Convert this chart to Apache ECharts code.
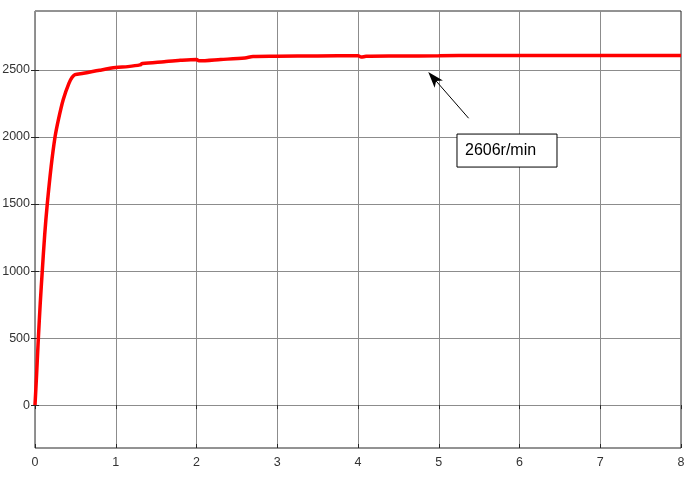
<!DOCTYPE html>
<html>
<head>
<meta charset="utf-8">
<script src="https://cdn.jsdelivr.net/npm/echarts@6/dist/echarts.min.js"></script>
<style>html,body{margin:0;padding:0;background:#fff;}#c{width:700px;height:495px;}</style>
</head>
<body>
<div id="c"></div>
<script>
// time (s)
var times = [0,0.02,0.04,0.065,0.09,0.12,0.152,0.2,0.248,0.29,0.35,0.42,0.46,0.495,
  0.6,0.8,1.0,1.15,1.3,1.33,1.6,1.8,2.0,2.03,2.3,2.6,2.7,3.0,3.5,4.0,4.04,4.1,4.5,5.0,5.5,6,7,8];
// speed (r/min)
var speeds = [0,230,480,760,1000,1270,1500,1780,2000,2130,2280,2400,2445,2465,
  2475,2498,2518,2525,2538,2548,2562,2572,2578,2568,2578,2590,2600,2602,2605,2607,2596,2602,2604,2606,2608,2608,2608,2608];
var yTicks = [0,500,1000,1500,2000,2500];
var annotationText = '2606r/min';
var arrowTail = [5.37, 2140];
var arrowTip = [4.87, 2485];
var boxAnchor = [5.226, 2022];

var data = times.map(function(t,i){return [t, speeds[i]];});
var chart = echarts.init(document.getElementById('c'));
var labelStyle = {color:'#333', fontSize:12.5, fontFamily:'Liberation Sans, Arial, sans-serif',
  formatter:function(v){return String(v);}};
var gridLine = {show:true, lineStyle:{color:'#8c8c8c', width:1}};
var tick = {show:true, inside:true, length:4, lineStyle:{color:'#262626'}};
var yTick = Object.assign({customValues:yTicks}, tick);
chart.setOption({
  animation:false,
  grid:{left:35, right:19, top:11, bottom:47, outerBoundsMode:'none', containLabel:false,
    show:true, borderColor:'#262626', borderWidth:1, backgroundColor:'#fff'},
  xAxis:[{type:'value', min:0, max:8, minInterval:1, maxInterval:1,
    axisLine:{show:false, onZero:false}, axisTick:tick,
    axisLabel:Object.assign({margin:8}, labelStyle), splitLine:gridLine},
    {type:'value', position:'top', min:0, max:8, minInterval:1, maxInterval:1,
    axisLine:{show:false}, axisTick:tick, axisLabel:{show:false}, splitLine:{show:false}}],
  yAxis:[{type:'value', min:-320, max:2940, minInterval:500, maxInterval:500,
    axisLine:{show:false, onZero:false}, axisTick:yTick,
    axisLabel:Object.assign({margin:5, customValues:yTicks}, labelStyle), splitLine:gridLine},
    {type:'value', position:'right', min:-320, max:2940, minInterval:500, maxInterval:500,
    axisLine:{show:false}, axisTick:yTick, axisLabel:{show:false}, splitLine:{show:false}}],
  series:[{type:'line', data:data, showSymbol:false, smooth:0.3,
    lineStyle:{color:'#ff0000', width:3.5}, xAxisIndex:0, yAxisIndex:0}]
});

function px(p){return chart.convertToPixel({xAxisIndex:0, yAxisIndex:0}, p);}
var t0 = px(arrowTail), t1 = px(arrowTip), b = px(boxAnchor);
var dx = t1[0]-t0[0], dy = t1[1]-t0[1], len = Math.sqrt(dx*dx+dy*dy);
var ux = dx/len, uy = dy/len, hl = 16, hw = 5.5;
var bx = t1[0]-ux*hl, by = t1[1]-uy*hl;
var base = [t1[0]-ux*hl*0.75, t1[1]-uy*hl*0.75];
chart.setOption({graphic:[
  {type:'line', shape:{x1:t0[0], y1:t0[1], x2:base[0], y2:base[1]}, style:{stroke:'#000', lineWidth:1}},
  {type:'polygon', shape:{points:[[t1[0],t1[1]],[bx-uy*hw, by+ux*hw],[base[0],base[1]],[bx+uy*hw, by-ux*hw]]}, style:{fill:'#000'}},
  {type:'rect', shape:{x:b[0], y:b[1], width:100, height:33}, style:{fill:'#fff', stroke:'#000', lineWidth:1}},
  {type:'text', x:b[0]+8, y:b[1]+16.5, style:{text:annotationText, fill:'#000', fontSize:16, fontFamily:'Liberation Sans, Arial, sans-serif', verticalAlign:'middle'}}
]});
</script>
</body>
</html>
